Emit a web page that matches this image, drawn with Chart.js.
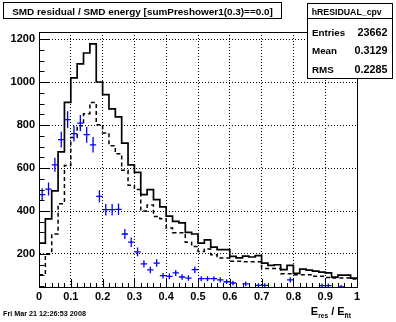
<!doctype html>
<html lang="en">
<head>
<meta charset="utf-8">
<title>hRESIDUAL_cpv</title>
<style>
  * { margin: 0; padding: 0; }
  body { background: #fff; }
  .chartBox { width: 396px; height: 322px; }
</style>
</head>
<body>
<div class="chartBox"><canvas id="myChart" width="396" height="322"></canvas></div>
<script src="https://cdn.jsdelivr.net/npm/chart.js/dist/chart.umd.min.js"></script>
<script>
// 50 bins of width 0.02 between 0 and 1
const binWidth = 0.02

// solid histogram (all entries)
const allHist = [
  251, 363, 494, 675, 905, 1019, 1084, 1135, 1177, 1000,
  941, 875, 838, 716, 615, 580, 476, 499, 453, 419,
  376, 352, 345, 301, 293, 251, 266, 232, 220, 220,
  189, 182, 190, 186, 192, 158, 147, 150, 127, 147,
  110, 130, 125, 120, 116, 112, 92, 102, 102, 88
]

// dashed histogram
const cutHist = [
  104, 201, 293, 434, 612, 742, 797, 852, 905, 801,
  763, 704, 666, 589, 520, 500, 400, 428, 375, 364,
  321, 299, 299, 255, 235, 212, 223, 197, 181, 181,
  166, 166, 164, 164, 164, 133, 133, 133, 108, 108,
  104, 104, 104, 96, 96, 91, 88, 88, 88, 84
]

// blue points with errors (null = below the frame, not drawn)
const cpvHist = [
  476, 502, 615, 732, 825, 760, 809, 755, 708, 468,
  406, 406, 408, 293, 255, 210, 154, 126, 158, 99,
  96, 112, 93, 88, 127, 85, 85, 85, 80, 71,
  65, null, 61, null, 54, 54, null, null, null, 80,
  null, null, null, null, 53, 53, null, 47, null, null
]
const cpvErr = [
  30, 30, 33, 37, 39, 37, 38, 37, 36, 29,
  27, 27, 27, 23, 22, 20, 17, 15, 17, 13,
  13, 14, 13, 13, 15, 12, 12, 12, 12, 11,
  11, 0, 11, 0, 10, 10, 0, 0, 0, 12,
  0, 0, 0, 0, 10, 10, 0, 9, 0, 0
]

const xTicks = [0, 0.1, 0.2, 0.3, 0.4, 0.5, 0.6, 0.7, 0.8, 0.9, 1]
const yTicks = [200, 400, 600, 800, 1000, 1200]

const FONT = '"Liberation Sans", Arial, Helvetica, sans-serif'

// histogram -> step points at bin edges
function toSteps(values) {
  const pts = values.map((v, i) => ({x: i * binWidth, y: v}))
  pts.push({x: values.length * binWidth, y: values[values.length - 1]})
  return pts
}

// bold text squeezed/stretched to a given width
function fitText(ctx, text, x, y, width, size) {
  ctx.font = 'bold ' + size + 'px ' + FONT
  const s = size * width / ctx.measureText(text).width
  ctx.font = 'bold ' + s.toFixed(2) + 'px ' + FONT
  ctx.fillText(text, x, y)
}

// crosses, frame, inner ticks, title and stats boxes
const rootPad = {
  id: 'rootPad',
  afterDatasetsDraw(chart) {
    const {ctx, chartArea: {left, right, top, bottom}, scales: {x, y}} = chart
    ctx.save()
    ctx.beginPath()
    ctx.rect(left, top, right - left, bottom - top)
    ctx.clip()
    ctx.strokeStyle = '#0000ff'
    ctx.lineWidth = 1.3
    cpvHist.forEach((v, i) => {
      if (v === null) return
      const x0 = x.getPixelForValue(i * binWidth)
      const x1 = x.getPixelForValue((i + 1) * binWidth)
      const xc = (x0 + x1) / 2
      const yc = y.getPixelForValue(v)
      ctx.beginPath()
      ctx.moveTo(x0, yc)
      ctx.lineTo(x1, yc)
      ctx.moveTo(xc, y.getPixelForValue(v + cpvErr[i]))
      ctx.lineTo(xc, y.getPixelForValue(v - cpvErr[i]))
      ctx.stroke()
    })
    ctx.restore()
  },
  afterDraw(chart) {
    const {ctx, chartArea: {left, right, top, bottom}, scales: {x, y}} = chart
    ctx.save()
    ctx.strokeStyle = '#000'
    ctx.lineWidth = 1

    // frame
    ctx.strokeRect(Math.round(left) + 0.5, Math.round(top) + 0.5,
      Math.round(right - left), Math.round(bottom - top))

    // ticks pointing inwards
    ctx.beginPath()
    for (let k = 0; k <= 50; k++) {
      const px = Math.round(x.getPixelForValue(k * binWidth)) + 0.5
      const len = k % 5 === 0 ? 8 : 4
      ctx.moveTo(px, bottom)
      ctx.lineTo(px, bottom - len)
    }
    for (let v = 50; v <= 1200; v += 50) {
      const py = Math.round(y.getPixelForValue(v)) + 0.5
      const len = v % 200 === 0 ? 11 : 5.5
      ctx.moveTo(left, py)
      ctx.lineTo(left + len, py)
    }
    ctx.stroke()

    // title box
    ctx.fillStyle = '#fff'
    ctx.fillRect(3.5, 2.5, 278, 16)
    ctx.strokeRect(3.5, 2.5, 278, 16)
    ctx.fillStyle = '#000'
    ctx.textAlign = 'center'
    ctx.textBaseline = 'alphabetic'
    fitText(ctx, 'SMD residual / SMD energy [sumPreshower1(0.3)==0.0]', 142.5, 15, 261, 11)

    // stats box
    ctx.fillStyle = '#fff'
    ctx.fillRect(307.5, 3.5, 85, 75)
    ctx.strokeRect(307.5, 3.5, 85, 75)
    ctx.beginPath()
    ctx.moveTo(307.5, 18.5)
    ctx.lineTo(392.5, 18.5)
    ctx.stroke()
    ctx.fillStyle = '#000'
    ctx.textAlign = 'center'
    fitText(ctx, 'hRESIDUAL_cpv', 346.7, 15, 70, 10)
    const rows = [['Entries', '23662', 35.5], ['Mean', '0.3129', 54], ['RMS', '0.2285', 72.5]]
    rows.forEach(([k, v, by]) => {
      ctx.textAlign = 'left'
      ctx.font = 'bold 9.8px ' + FONT
      ctx.fillText(k, 312, by)
      ctx.textAlign = 'right'
      ctx.font = 'bold 10.8px ' + FONT
      ctx.fillText(v, 387.5, by)
    })

    // x axis title E_res / E_fit
    const parts = [
      ['E', 11, 0], ['res', 6.6, 3], [' / ', 11, 0], ['E', 11, 0], ['fit', 6.8, 3]
    ]
    let w = 0
    parts.forEach(([t, s]) => { ctx.font = 'bold ' + s + 'px ' + FONT; w += ctx.measureText(t).width })
    let cx = 351 - w
    ctx.textAlign = 'left'
    parts.forEach(([t, s, dy]) => {
      ctx.font = 'bold ' + s + 'px ' + FONT
      ctx.fillText(t, cx, 315 + dy)
      cx += ctx.measureText(t).width
    })

    // date stamp
    fitText(ctx, 'Fri Mar 21 12:26:53 2008', 3, 316, 83, 7)
    ctx.restore()
  }
}

const data = {
  datasets: [
    {
      label: 'all',
      data: toSteps(allHist),
      stepped: 'before',
      borderColor: '#000',
      borderWidth: 1.7,
      pointRadius: 0,
      fill: false
    },
    {
      label: 'cut',
      data: toSteps(cutHist),
      stepped: 'before',
      borderColor: '#000',
      borderWidth: 1.5,
      borderDash: [4, 3],
      pointRadius: 0,
      fill: false
    }
  ]
}

const tickFont = {family: FONT, size: 11, weight: 'bold'}

const config = {
  type: 'line',
  data,
  options: {
    responsive: false,
    animation: false,
    layout: {padding: {top: 32, right: 39, left: 0, bottom: 0}},
    plugins: {legend: {display: false}, tooltip: {enabled: false}},
    scales: {
      x: {
        type: 'linear',
        min: 0,
        max: 1,
        afterBuildTicks: scale => { scale.ticks = xTicks.map(v => ({value: v})) },
        afterFit: scale => { scale.height = 35 },
        ticks: {
          color: '#000',
          font: tickFont,
          padding: 3,
          maxRotation: 0,
          autoSkip: false,
          callback: v => String(Number(v.toFixed(1)))
        },
        grid: {color: '#000', drawTicks: false, lineWidth: 1},
        border: {color: '#000', width: 1, dash: [1, 2]}
      },
      y: {
        min: 46.5,
        max: 1232.6,
        afterBuildTicks: scale => { scale.ticks = yTicks.map(v => ({value: v})) },
        afterFit: scale => { scale.width = 39 },
        ticks: {
          color: '#000',
          font: tickFont,
          padding: 4,
          autoSkip: false,
          callback: v => String(v)
        },
        grid: {color: '#000', drawTicks: false, lineWidth: 1},
        border: {color: '#000', width: 1, dash: [1, 2]}
      }
    }
  },
  plugins: [rootPad]
}

const myChart = new Chart(document.getElementById('myChart'), config)
</script>
</body>
</html>
